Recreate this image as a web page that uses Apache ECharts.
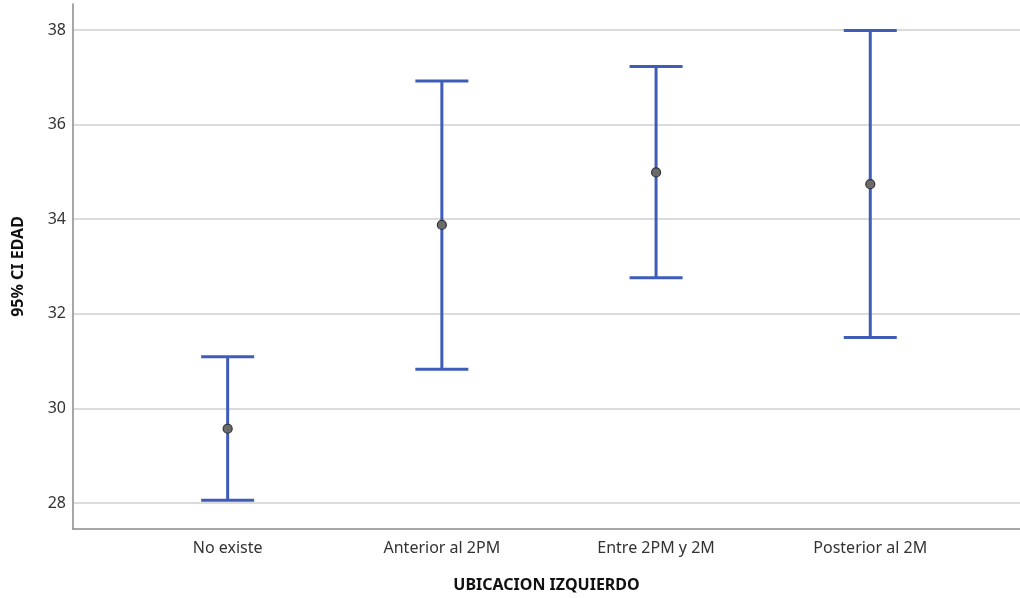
<!DOCTYPE html>
<html><head><meta charset="utf-8">
<script src="https://cdn.jsdelivr.net/npm/echarts@6/dist/echarts.min.js"></script>
<style>html,body{margin:0;padding:0;background:#fff}#c{width:1020px;height:598px}</style>
</head><body><div id="c"></div>
<script>
var categories = ['No existe', 'Anterior al 2PM', 'Entre 2PM y 2M', 'Posterior al 2M'];
var means = [29.57, 33.88, 34.99, 34.74];
var lower = [28.06, 30.83, 32.76, 31.50];
var upper = [31.09, 36.92, 37.23, 37.99];
var yTicks = [28, 30, 32, 34, 36, 38];

var data = categories.map(function (c, i) { return [i + 1, means[i], lower[i], upper[i]]; });
var blue = '#3f5cb8';
var chart = echarts.init(document.getElementById('c'), null, {renderer: 'canvas'});
chart.setOption({
  animation: false,
  backgroundColor: '#fff',
  grid: {left: 73, right: 0, top: 4, bottom: 69},
  xAxis: {
    type: 'value', min: 0.278, max: 4.699,
    name: 'UBICACION IZQUIERDO', nameLocation: 'middle', nameGap: 48,
    nameTextStyle: {fontFamily: 'Noto Sans', fontWeight: 'bold', fontSize: 16, color: '#111'},
    axisLine: {show: true, onZero: false, lineStyle: {color: '#8a8a8a', width: 1.5}},
    axisTick: {show: false},
    splitLine: {show: false},
    axisLabel: {
      customValues: [1, 2, 3, 4], margin: 11,
      fontFamily: 'Noto Sans', fontSize: 16, color: '#333',
      formatter: function (v) { return categories[Math.round(v) - 1] || ''; }
    }
  },
  yAxis: {
    type: 'value', min: 27.45, max: 38.55,
    name: '95% CI EDAD', nameLocation: 'middle', nameGap: 47,
    nameTextStyle: {fontFamily: 'Noto Sans', fontWeight: 'bold', fontSize: 16, color: '#111'},
    axisLine: {show: true, lineStyle: {color: '#8a8a8a', width: 1.5}},
    axisTick: {show: false, customValues: yTicks},
    axisLabel: {customValues: yTicks, margin: 7, fontFamily: 'Noto Sans', fontSize: 16, color: '#333'},
    splitLine: {show: true, lineStyle: {color: '#cfcfcf', width: 1.5}}
  },
  series: [{
    type: 'custom',
    data: data,
    encode: {x: 0, y: [1, 2, 3]},
    renderItem: function (params, api) {
      var x = api.value(0);
      var pm = api.coord([x, api.value(1)]);
      var pl = api.coord([x, api.value(2)]);
      var pu = api.coord([x, api.value(3)]);
      var hw = 26.5;
      var st = {stroke: blue, lineWidth: 3, fill: null};
      return {
        type: 'group',
        children: [
          {type: 'line', shape: {x1: pl[0], y1: pl[1], x2: pu[0], y2: pu[1]}, style: st},
          {type: 'line', shape: {x1: pl[0] - hw, y1: pl[1], x2: pl[0] + hw, y2: pl[1]}, style: st},
          {type: 'line', shape: {x1: pu[0] - hw, y1: pu[1], x2: pu[0] + hw, y2: pu[1]}, style: st},
          {type: 'circle', shape: {cx: pm[0], cy: pm[1], r: 4.5}, style: {fill: '#6b6b6b', stroke: '#333', lineWidth: 1.2}}
        ]
      };
    }
  }]
});
</script></body></html>
